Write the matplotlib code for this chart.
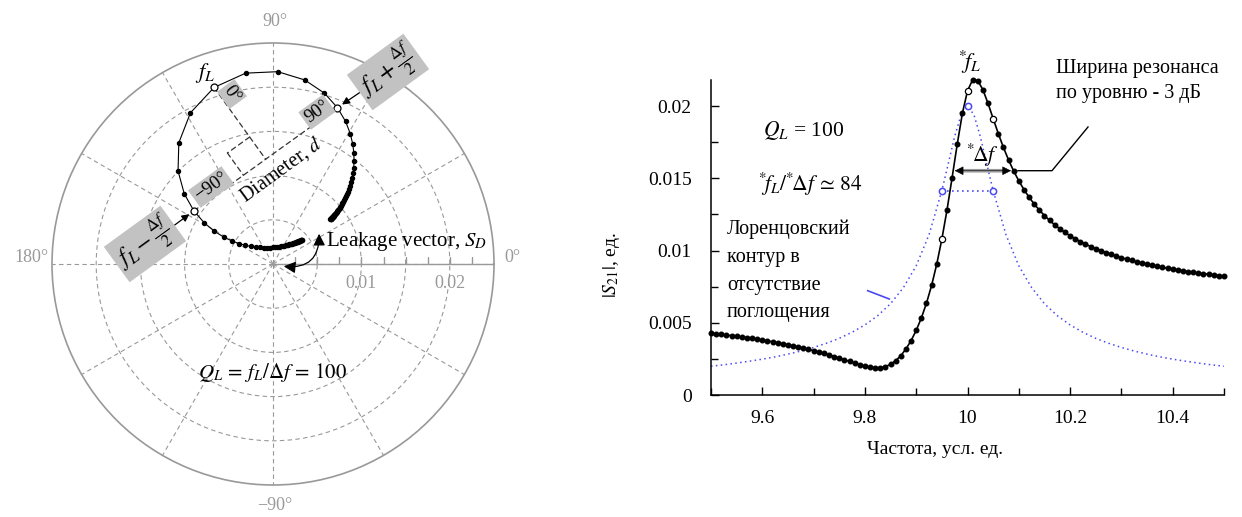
import numpy as np
import matplotlib
matplotlib.use("Agg")
import matplotlib.pyplot as plt
from matplotlib.lines import Line2D
from matplotlib.patches import FancyArrowPatch

plt.rcParams["font.family"] = ["Liberation Serif", "DejaVu Serif"]
plt.rcParams["mathtext.fontset"] = "stix"

# --- данные: частота, |S21| и фаза S21 ---
freq = [
    9.50, 9.51, 9.52, 9.53, 9.54, 9.55, 9.56, 9.57, 9.58, 9.59,
    9.60, 9.61, 9.62, 9.63, 9.64, 9.65, 9.66, 9.67, 9.68, 9.69,
    9.70, 9.71, 9.72, 9.73, 9.74, 9.75, 9.76, 9.77, 9.78, 9.79,
    9.80, 9.81, 9.82, 9.83, 9.84, 9.85, 9.86, 9.87, 9.88, 9.89,
    9.90, 9.91, 9.92, 9.93, 9.94, 9.95, 9.96, 9.97, 9.98, 9.99,
    10.00, 10.01, 10.02, 10.03, 10.04, 10.05, 10.06, 10.07, 10.08, 10.09,
    10.10, 10.11, 10.12, 10.13, 10.14, 10.15, 10.16, 10.17, 10.18, 10.19,
    10.20, 10.21, 10.22, 10.23, 10.24, 10.25, 10.26, 10.27, 10.28, 10.29,
    10.30, 10.31, 10.32, 10.33, 10.34, 10.35, 10.36, 10.37, 10.38, 10.39,
    10.40, 10.41, 10.42, 10.43, 10.44, 10.45, 10.46, 10.47, 10.48, 10.49,
    10.50,
]
# |S21| in units of 1e-6
s21_mag_micro = [
    4272, 4233, 4192, 4150, 4107, 4061, 4014, 3964, 3912, 3859,
    3802, 3743, 3681, 3617, 3549, 3478, 3404, 3326, 3243, 3157,
    3067, 2972, 2873, 2769, 2662, 2550, 2436, 2321, 2207, 2098,
    2001, 1925, 1883, 1890, 1965, 2121, 2372, 2724, 3184, 3762,
    4468, 5323, 6351, 7581, 9049, 10784, 12795, 15037, 17361, 19486,
    21054, 21811, 21762, 21128, 20181, 19129, 18095, 17135, 16270, 15501,
    14821, 14221, 13689, 13218, 12797, 12421, 12083, 11778, 11502, 11251,
    11022, 10812, 10619, 10442, 10277, 10125, 9984, 9852, 9729, 9614,
    9506, 9405, 9310, 9220, 9135, 9055, 8979, 8907, 8839, 8774,
    8712, 8653, 8597, 8544, 8492, 8443, 8396, 8351, 8308, 8267,
    8227,
]
s21_phase_deg = [
    39.80, 39.95, 40.11, 40.28, 40.46, 40.66, 40.88, 41.12, 41.38, 41.66,
    41.97, 42.31, 42.69, 43.11, 43.57, 44.09, 44.67, 45.33, 46.08, 46.93,
    47.90, 49.02, 50.33, 51.86, 53.66, 55.81, 58.38, 61.50, 65.30, 69.94,
    75.61, 82.47, 90.58, 99.76, 109.53, 119.18, 127.97, 135.42, 141.36, 145.81,
    148.88, 150.70, 151.34, 150.82, 149.11, 146.10, 141.65, 135.59, 127.86, 118.64,
    108.46, 98.15, 88.57, 80.22, 73.26, 67.60, 63.02, 59.32, 56.30, 53.83,
    51.79, 50.08, 48.64, 47.42, 46.37, 45.47, 44.68, 44.00, 43.40, 42.86,
    42.39, 41.97, 41.59, 41.25, 40.94, 40.67, 40.42, 40.19, 39.98, 39.79,
    39.61, 39.45, 39.30, 39.16, 39.03, 38.91, 38.80, 38.70, 38.60, 38.52,
    38.43, 38.35, 38.28, 38.21, 38.15, 38.09, 38.03, 37.97, 37.92, 37.87,
    37.83,
]
# f_L - df/2, f_L, f_L + df/2
mark_freq = [9.95, 10.00, 10.05]

# лоренцовский контур без поглощения
lor_freq = [
    9.500, 9.525, 9.550, 9.575, 9.600, 9.625, 9.650, 9.675, 9.700, 9.725,
    9.750, 9.775, 9.800, 9.825, 9.850, 9.875, 9.900, 9.925, 9.950, 9.9625,
    9.975, 9.9875, 10.000, 10.0125, 10.025, 10.0375, 10.050, 10.075, 10.100, 10.125,
    10.150, 10.175, 10.200, 10.225, 10.250, 10.275, 10.300, 10.325, 10.350, 10.375,
    10.400, 10.425, 10.450, 10.475, 10.500,
]
lor_mag = [
    0.00199, 0.00209, 0.00221, 0.00234, 0.00248, 0.00264, 0.00283, 0.00304, 0.00329, 0.00358,
    0.00392, 0.00434, 0.00485, 0.00549, 0.00632, 0.00743, 0.00894, 0.01109, 0.01414, 0.01600,
    0.01789, 0.01940, 0.02000, 0.01940, 0.01789, 0.01600, 0.01414, 0.01109, 0.00894, 0.00743,
    0.00632, 0.00549, 0.00485, 0.00434, 0.00392, 0.00358, 0.00329, 0.00304, 0.00283, 0.00264,
    0.00248, 0.00234, 0.00221, 0.00209, 0.00199,
]
lor_mark_freq = [9.95, 10.00, 10.05]
lor_mark_mag = [0.01414, 0.02000, 0.01414]

# оси
polar_rmax = 0.025
polar_rgrid = [0.005, 0.01, 0.015, 0.02]
polar_rticks = [0.0025, 0.005, 0.0075, 0.01, 0.0125, 0.015, 0.0175, 0.02, 0.0225]
polar_rlabels = [0.01, 0.02]
polar_theta_grid = [0, 30, 60, 90, 120, 150, 180, 210, 240, 270, 300, 330]

x_major = [9.6, 9.8, 10.0, 10.2, 10.4]
x_major_labels = ["9.6", "9.8", "10", "10.2", "10.4"]
x_minor = [9.5, 9.7, 9.9, 10.1, 10.3, 10.5]
y_major = [0, 0.005, 0.01, 0.015, 0.02]
y_major_labels = ["0", "0.005", "0.01", "0.015", "0.02"]
y_minor = [0.0025, 0.0075, 0.0125, 0.0175]

s21_mag = np.array(s21_mag_micro) * 1e-6
s21_th = np.deg2rad(s21_phase_deg)

W, H = 1242.0, 517.0
GREY = "0.6"
BOX = "0.76"
BLUE = "#4a4af2"


def fxy(px, py):
    """пиксели исходной картинки -> доли фигуры"""
    return px / W, 1.0 - py / H


def to_polar(p):
    return np.arctan2(p[1], p[0]), np.hypot(p[0], p[1])


fig = plt.figure(figsize=(12.42, 5.17), dpi=100)

# ---------------- полярная диаграмма ----------------
axp = fig.add_axes([52 / W, 1 - 485 / H, 442 / W, 442 / H], projection="polar")
axp.set_ylim(0, polar_rmax)
axp.set_yticks(polar_rgrid)
axp.set_yticklabels([])
axp.set_xticks(np.deg2rad(polar_theta_grid))
axp.set_xticklabels([])
axp.tick_params(length=0)
axp.grid(True, color=GREY, linestyle=(0, (4, 3)), linewidth=0.8)
axp.spines["polar"].set_color(GREY)
axp.spines["polar"].set_linewidth(1.2)

# ось 0° с засечками
axp.plot([0, 0], [0, polar_rmax], color=GREY, lw=1.0, zorder=2)
axp.plot([0] * len(polar_rticks), polar_rticks, ls="none", marker=2, ms=5,
         mew=1.0, color=GREY, zorder=2)
for r in polar_rlabels:
    axp.annotate(f"{r:g}", xy=(0, r), xytext=(0, -8), textcoords="offset points",
                 ha="center", va="top", color=GREY, fontsize=13)

fig.text(*fxy(275, 21), "90°", ha="center", va="center", color=GREY, fontsize=13)
fig.text(*fxy(504, 258), "0°", ha="left", va="center", color=GREY, fontsize=13)
fig.text(*fxy(49, 258), "180°", ha="right", va="center", color=GREY, fontsize=13)
fig.text(*fxy(275, 506), "−90°", ha="center", va="center", color=GREY, fontsize=13)

axp.plot(s21_th, s21_mag, color="black", lw=0.8, marker="o", ms=2.9, zorder=4)
idx = [freq.index(f) for f in mark_freq]
axp.plot(s21_th[idx], s21_mag[idx], ls="none", marker="o", ms=5, mfc="white",
         mec="black", mew=0.9, zorder=5)

# построения в декартовых координатах
cart = [np.array([s21_mag[i] * np.cos(s21_th[i]), s21_mag[i] * np.sin(s21_th[i])]) for i in idx]
p_lo, p_0, p_hi = cart
centre = (p_lo + p_hi) / 2
dash = dict(arrowstyle="-", shrinkA=0, shrinkB=0, color="0.2", lw=0.9, ls=(0, (4, 3)))
axp.annotate("", xy=to_polar(p_hi), xytext=to_polar(p_lo), arrowprops=dash, zorder=3)
axp.annotate("", xy=to_polar(centre), xytext=to_polar(p_0), arrowprops=dash, zorder=3)
u1 = (p_0 - centre) / np.hypot(*(p_0 - centre))
u2 = (p_lo - centre) / np.hypot(*(p_lo - centre))
side = 0.0031
sq = [centre + side * u1, centre + side * (u1 + u2), centre + side * u2]
sq_pol = [to_polar(p) for p in sq]
axp.annotate("", xy=sq_pol[1], xytext=sq_pol[0], arrowprops=dash, zorder=3)
axp.annotate("", xy=sq_pol[2], xytext=sq_pol[1], arrowprops=dash, zorder=3)

boxkw = dict(boxstyle="square,pad=0.12", fc=BOX, ec="none")
fig.text(*fxy(232, 94), "0°", rotation=-54, ha="center", va="center",
         fontsize=13.5, bbox=boxkw, zorder=6)
fig.text(*fxy(317, 112), "90°", rotation=36, ha="center", va="center",
         fontsize=13.5, bbox=boxkw, zorder=6)
fig.text(*fxy(211, 187), "−90°", rotation=36, ha="center", va="center",
         fontsize=13.5, bbox=boxkw, zorder=6)
fig.text(*fxy(388, 72), r"$f_L+\frac{\Delta f}{2}$", rotation=36, ha="center",
         va="center", fontsize=17, bbox=boxkw, zorder=6)
fig.text(*fxy(145, 244), r"$f_L-\frac{\Delta f}{2}$", rotation=36, ha="center",
         va="center", fontsize=17, bbox=boxkw, zorder=6)

arr = dict(arrowstyle="-|>", color="black", lw=0.9, shrinkA=0, shrinkB=4,
           mutation_scale=11)
axp.annotate("", xy=to_polar(p_hi), xytext=fxy(362, 91), textcoords="figure fraction",
             arrowprops=arr, zorder=6)
axp.annotate("", xy=to_polar(p_lo), xytext=fxy(172, 227), textcoords="figure fraction",
             arrowprops=arr, zorder=6)

fig.text(*fxy(205, 73), r"$f_L$", ha="center", va="center", fontsize=16)
fig.text(*fxy(281, 169), r"Diameter, $d$", rotation=36, ha="center", va="center",
         fontsize=14.5)
fig.text(*fxy(326, 241), r"Leakage vector, $S_D$", ha="left", va="center", fontsize=15)
fig.add_artist(FancyArrowPatch(
    fxy(319, 231), fxy(281, 266), transform=fig.transFigure,
    arrowstyle="<|-|>,head_length=0.5,head_width=0.25", connectionstyle="arc3,rad=-0.6",
    color="black", lw=0.9, mutation_scale=14))
fig.text(*fxy(273, 372), r"$Q_L\,=\,f_L/\Delta f\,=\,100$", ha="center", va="center",
         fontsize=15)

# ---------------- |S21| от частоты ----------------
ax = fig.add_axes([711 / W, 1 - 395 / H, 513 / W, 315 / H])
ax.set_xlim(9.5, 10.5)
ax.set_ylim(0, 0.0218)
for s in ("top", "right"):
    ax.spines[s].set_visible(False)
for s in ("left", "bottom"):
    ax.spines[s].set_linewidth(1.1)

ax.plot(lor_freq, lor_mag, ls=(0, (1, 2.2)), color=BLUE, lw=1.1, zorder=2)
ax.plot(freq, s21_mag, color="black", lw=1.2, marker="o", ms=3.3, zorder=3, clip_on=False)
ax.plot(np.array(freq)[idx], s21_mag[idx], ls="none", marker="o", ms=4.5,
        mfc="white", mec="black", mew=0.9, zorder=4)
ax.plot([lor_mark_freq[0], lor_mark_freq[2]], [lor_mark_mag[0], lor_mark_mag[2]],
        ls=(0, (1, 2)), color=BLUE, lw=1.2, zorder=2)
ax.plot(lor_mark_freq, lor_mark_mag, ls="none", marker="o", ms=4.5, mfc="white",
        mec=BLUE, mew=1.1, zorder=4)

ax.set_xticks(x_major)
ax.set_xticklabels(x_major_labels)
ax.set_xticks(x_minor, minor=True)
ax.set_yticks(y_major)
ax.set_yticklabels(y_major_labels)
ax.set_yticks(y_minor, minor=True)
ax.tick_params(which="both", direction="in", width=1.0, labelsize=14)
ax.tick_params(which="major", length=6)
ax.tick_params(which="minor", length=5)
ax.tick_params(axis="x", pad=11)
ax.tick_params(axis="y", pad=14)

fig.text(*fxy(935, 450), "Частота, усл. ед.", ha="center", va="center", fontsize=14)
fig.text(*fxy(612, 265), r"$|S_{21}|$, ед.", rotation=90, ha="center", va="center",
         fontsize=14)

fig.text(*fxy(763, 131), r"$Q_L$ = 100", ha="left", va="center", fontsize=15.5)
fig.text(*fxy(758, 184), r"${}^{*}\!f_L/{}^{*}\!\Delta f\,\simeq\,84$", ha="left",
         va="center", fontsize=15.5)
fig.text(*fxy(727, 271), "Лоренцовский\nконтур в\nотсутствие\nпоглощения", ha="left",
         va="center", fontsize=14.5, linespacing=1.62)
fig.add_artist(Line2D([867.7 / W, 889.3 / W], [1 - 290.7 / H, 1 - 299 / H],
                      color=BLUE, lw=1.2))
fig.text(*fxy(970, 62), r"${}^{*}\!f_L$", ha="center", va="center", fontsize=16)
fig.text(*fxy(1056, 81), "Ширина резонанса\nпо уровню - 3 дБ", ha="left", va="center",
         fontsize=14.5, linespacing=1.45)
fig.add_artist(Line2D([1018 / W, 1052 / W, 1088 / W],
                      [1 - 170.7 / H, 1 - 170.7 / H, 1 - 127 / H], color="black", lw=1.0))

ax.annotate("", xy=(9.975, 0.01552), xytext=(10.085, 0.01552),
            arrowprops=dict(arrowstyle="-", color="0.6", lw=2.6, shrinkA=6, shrinkB=6))
ax.annotate("", xy=(9.975, 0.01552), xytext=(10.085, 0.01552),
            arrowprops=dict(arrowstyle="<|-|>", color="black", lw=0.4, shrinkA=0,
                            shrinkB=0, mutation_scale=14))
fig.text(*fxy(982, 155), r"${}^{*}\!\Delta f$", ha="center", va="center", fontsize=15.5)

fig.savefig("out.png", dpi=100)
